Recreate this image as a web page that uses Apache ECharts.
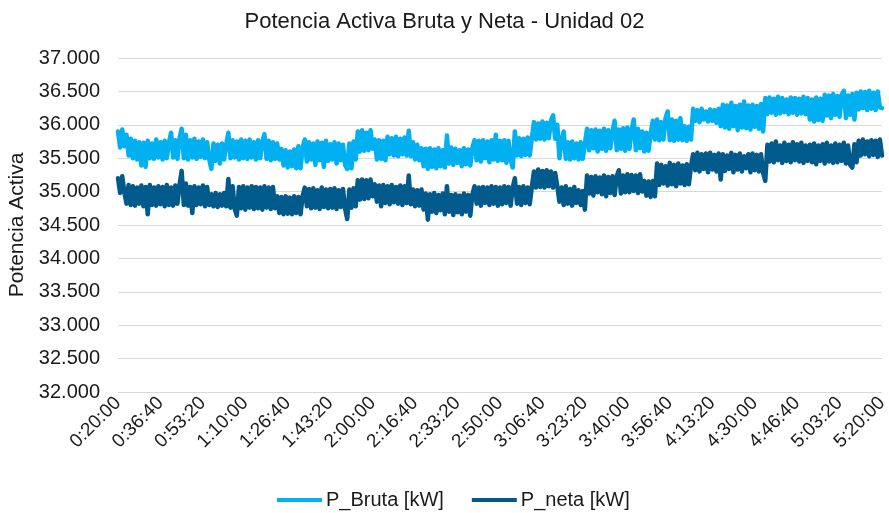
<!DOCTYPE html>
<html>
<head>
<meta charset="utf-8">
<script src="https://cdn.jsdelivr.net/npm/echarts@6/dist/echarts.min.js"></script>
<style>
  html, body { margin: 0; padding: 0; background: #fff; }
  #chart { width: 889px; height: 513px; }
</style>
</head>
<body>
<div id="chart"></div>
<script>
// eje de tiempo: 0:20:00 -> 5:20:00, un punto cada 50 s
const startSec = 20 * 60
const stepSec = 50
const nPoints = 361

const yTicks = [32000, 32500, 33000, 33500, 34000, 34500, 35000, 35500, 36000, 36500, 37000]

// P_Bruta [kW]
const pBruta = [
  35900, 35660, 35930, 35680, 35850, 35540, 35790, 35500, 35760, 35480, 35740, 35390, 35730, 35370, 35760, 35500, 35720, 35490, 35780, 35510,
  35740, 35480, 35760, 35500, 35730, 35880, 35510, 35770, 35490, 35800, 35940, 35500, 35850, 35480, 35770, 35510, 35790, 35490, 35750, 35520,
  35780, 35500, 35740, 35480, 35340, 35720, 35460, 35700, 35420, 35720, 35480, 35710, 35880, 35500, 35770, 35510, 35750, 35480, 35780, 35500,
  35760, 35490, 35780, 35510, 35740, 35480, 35770, 35500, 35750, 35860, 35490, 35760, 35470, 35740, 35490, 35720, 35480, 35640, 35390, 35620,
  35360, 35600, 35380, 35630, 35350, 35680, 35350, 35660, 35780, 35450, 35740, 35480, 35720, 35400, 35750, 35470, 35730, 35370, 35760, 35460,
  35710, 35480, 35740, 35420, 35720, 35470, 35700, 35400, 35340, 35720, 35350, 35750, 35480, 35900, 35600, 35920, 35610, 35880, 35620, 35920,
  35640, 35780, 35480, 35770, 35490, 35760, 35470, 35820, 35560, 35800, 35540, 35820, 35530, 35790, 35560, 35810, 35540, 35910, 35530, 35740,
  35480, 35700, 35470, 35650, 35380, 35640, 35340, 35650, 35370, 35630, 35350, 35650, 35380, 35620, 35360, 35840, 35420, 35660, 35400, 35640,
  35430, 35620, 35380, 35650, 35410, 35630, 35390, 35660, 35770, 35470, 35760, 35450, 35770, 35500, 35750, 35440, 35770, 35480, 35850, 35460,
  35760, 35470, 35770, 35430, 35760, 35480, 35360, 35900, 35540, 35800, 35530, 35790, 35550, 35810, 35540, 35800, 36040, 35780, 36020, 35790,
  36050, 35780, 36030, 35800, 36060, 36140, 35790, 36000, 35500, 35760, 35900, 35490, 35740, 35480, 35750, 35500, 35720, 35480, 35740, 35490,
  35720, 35940, 35620, 35920, 35650, 35930, 35600, 35910, 35640, 35940, 35610, 35920, 35650, 35900, 36060, 35620, 35930, 35640, 35950, 35610,
  35960, 35640, 35920, 36080, 35620, 35940, 35650, 35900, 35600, 35880, 35610, 35870, 36060, 35780, 36080, 35770, 36040, 35780, 36100, 36200,
  35770, 36080, 35760, 36060, 35780, 36100, 35770, 35980, 35760, 35970, 35780, 36240, 36060, 36220, 36040, 36240, 36080, 36200, 36050, 36230,
  36060, 36220, 36030, 36240, 35980, 36300, 35960, 36290, 35940, 36330, 35980, 36280, 35920, 36300, 35960, 36350, 35950, 36290, 35930, 36300,
  35970, 36280, 35940, 36310, 35900, 36400, 36160, 36410, 36180, 36390, 36150, 36420, 36170, 36400, 36190, 36380, 36160, 36410, 36180, 36400,
  36150, 36390, 36170, 36420, 36160, 36400, 36080, 36380, 36050, 36410, 36070, 36390, 36060, 36450, 36140, 36440, 36100, 36460, 36150, 36430,
  36120, 36450, 36510, 36100, 36440, 36150, 36460, 36080, 36480, 36230, 36500, 36250, 36490, 36220, 36510, 36240, 36480, 36220, 36500, 36260,
  36250
]

// P_neta [kW]
const pNeta = [
  35200, 34980, 35230, 34990, 34820, 35100, 34800, 35080, 34790, 35060, 34820, 35090, 34780, 35070, 34660, 35100, 34800, 35060, 34790, 35080,
  34810, 35070, 34780, 35100, 34800, 35060, 34790, 35090, 34820, 35100, 35310, 34800, 35120, 34790, 35070, 34680, 35080, 34800, 35060, 34810,
  35090, 34780, 35070, 34800, 34960, 34780, 34980, 34770, 34960, 34790, 34980, 34780, 35190, 34760, 35080, 34740, 34640, 35070, 34750, 35080,
  34730, 35060, 34760, 35080, 34740, 35070, 34750, 35060, 34730, 35080, 34760, 35060, 34740, 35070, 34750, 34930, 34680, 34920, 34660, 34930,
  34670, 34910, 34660, 34930, 34680, 34920, 34660, 34930, 35060, 34780, 35040, 34750, 35050, 34760, 35020, 34740, 35060, 34770, 35030, 34750,
  35040, 34760, 35050, 34740, 35020, 34770, 35040, 34750, 34590, 35030, 34760, 35050, 34780, 35170, 34880, 35180, 34890, 35170, 34900, 35180,
  34930, 35110, 34850, 35090, 34780, 35100, 34830, 35080, 34810, 35100, 34840, 35070, 34820, 35090, 34800, 35080, 34830, 35240, 34810, 35030,
  34780, 35020, 34790, 35030, 34730, 34970, 34580, 34960, 34700, 34980, 34680, 34950, 34720, 34970, 34660, 35080, 34700, 34950, 34650, 34960,
  34690, 34940, 34660, 34970, 34700, 34950, 34640, 34960, 35080, 34820, 35060, 34790, 35070, 34830, 35060, 34800, 35080, 34820, 35070, 34790,
  35060, 34810, 35080, 34830, 35070, 34790, 35060, 35200, 34820, 35070, 34800, 35080, 34830, 35060, 34810, 35070, 35300, 35060, 35330, 35070,
  35310, 35060, 35320, 35080, 35300, 35060, 35280, 35080, 34850, 35060, 34800, 35080, 34820, 35040, 34790, 35070, 34830, 35020, 34800, 35010,
  34730, 35240, 34970, 35220, 34940, 35230, 34990, 35210, 34960, 35240, 34930, 35220, 34980, 35230, 34950, 35230, 35320, 34970, 35240, 34990,
  35260, 34990, 35250, 35010, 35240, 34980, 35260, 35000, 35160, 34940, 35150, 34920, 35160, 34930, 35420, 35100, 35400, 35120, 35380, 35090,
  35430, 35110, 35400, 35080, 35420, 35120, 35390, 35100, 35410, 35110, 35380, 35560, 35320, 35580, 35300, 35560, 35340, 35570, 35290, 35580,
  35330, 35550, 35300, 35570, 35180, 35560, 35310, 35540, 35340, 35580, 35290, 35550, 35330, 35570, 35300, 35530, 35350, 35560, 35290, 35570,
  35320, 35550, 35300, 35560, 35280, 35160, 35700, 35450, 35720, 35440, 35750, 35470, 35690, 35430, 35730, 35460, 35700, 35440, 35740, 35470,
  35710, 35450, 35730, 35430, 35690, 35460, 35700, 35440, 35720, 35410, 35690, 35460, 35710, 35420, 35730, 35450, 35690, 35430, 35720, 35440,
  35700, 35460, 35730, 35420, 35690, 35400, 35360, 35710, 35440, 35760, 35540, 35780, 35560, 35750, 35530, 35770, 35550, 35760, 35520, 35780,
  35540
]

// etiquetas h:mm:ss
function fmtTime (sec) {
  const h = Math.floor(sec / 3600)
  const m = Math.floor((sec % 3600) / 60)
  const s = sec % 60
  return h + ':' + String(m).padStart(2, '0') + ':' + String(s).padStart(2, '0')
}
const categories = []
for (let i = 0; i < nPoints; i++) categories.push(fmtTime(startSec + i * stepSec))

const font = 'Liberation Sans, Arial, sans-serif'
const textColor = '#1a1a1a'
const chart = echarts.init(document.getElementById('chart'))

chart.setOption({
  animation: false,
  backgroundColor: '#fff',
  title: {
    text: 'Potencia Activa Bruta y Neta - Unidad 02',
    left: 'center',
    top: 6,
    textStyle: { fontFamily: font, fontSize: 22, fontWeight: 'normal', color: textColor }
  },
  grid: { left: 118, right: 7, top: 58, bottom: 121, outerBoundsMode: 'none' },
  legend: {
    left: 272,
    top: 485,
    itemGap: 28,
    itemWidth: 45,
    itemHeight: 4,
    icon: 'rect',
    textStyle: { fontFamily: font, fontSize: 20, color: textColor, padding: [0, 0, 0, -1] },
    data: ['P_Bruta [kW]', 'P_neta [kW]']
  },
  xAxis: {
    type: 'category',
    boundaryGap: false,
    data: categories,
    axisLine: { show: false },
    axisTick: { show: false },
    splitLine: { show: false },
    axisLabel: {
      interval: 19,
      rotate: 45,
      margin: 8,
      fontFamily: font,
      fontSize: 19,
      color: textColor
    }
  },
  yAxis: {
    type: 'value',
    min: yTicks[0],
    max: yTicks[yTicks.length - 1],
    interval: 500,
    name: 'Potencia Activa',
    nameLocation: 'middle',
    nameGap: 88,
    nameTextStyle: { fontFamily: font, fontSize: 21, color: textColor },
    axisLine: { show: false },
    axisTick: { show: false },
    splitLine: { lineStyle: { color: '#d9d9d9', width: 1 } },
    axisLabel: {
      margin: 18,
      fontFamily: font,
      fontSize: 20,
      color: textColor,
      formatter: v => String(v).replace(/\B(?=(\d{3})+(?!\d))/g, '.')
    }
  },
  series: [
    {
      name: 'P_Bruta [kW]',
      type: 'line',
      data: pBruta,
      showSymbol: false,
      symbol: 'none',
      color: '#00b0f0',
      lineStyle: { color: '#00b0f0', width: 4.5, join: 'round', cap: 'round' }
    },
    {
      name: 'P_neta [kW]',
      type: 'line',
      data: pNeta,
      showSymbol: false,
      symbol: 'none',
      color: '#005a8c',
      lineStyle: { color: '#005a8c', width: 4.5, join: 'round', cap: 'round' }
    }
  ]
})
</script>
</body>
</html>
